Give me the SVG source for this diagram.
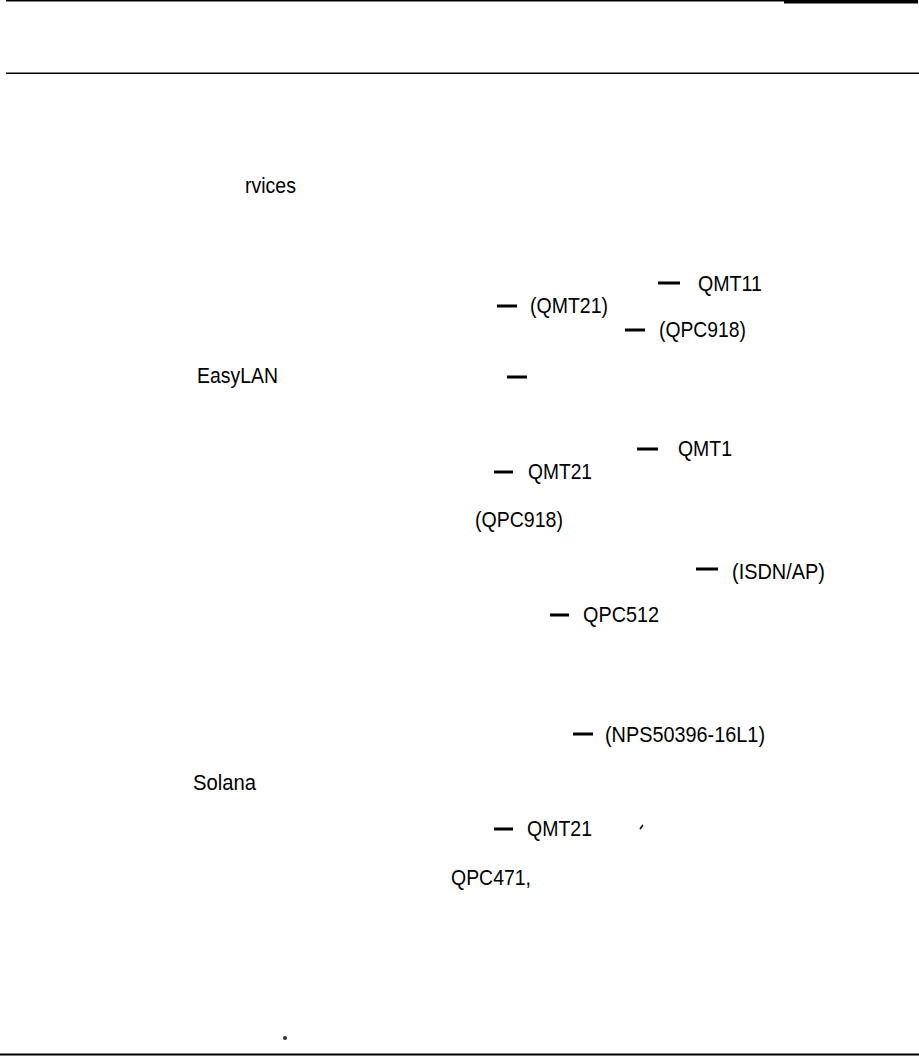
<svg xmlns="http://www.w3.org/2000/svg" width="919" height="1056" viewBox="0 0 919 1056">
<style>
.t{font-family:"Liberation Sans",Arial,Helvetica,sans-serif;font-size:22px;fill:#000}
.d{fill:#000}
</style>
<rect width="919" height="1056" fill="#fff"/>
<g id="rules">
<rect x="6" y="0" width="778" height="1.5" fill="#000"/>
<rect x="784" y="0" width="134" height="3.5" fill="#000"/>
<rect x="6" y="72.5" width="913" height="1.5" fill="#000"/>
<rect x="0" y="1053.5" width="919" height="2" fill="#000"/>
</g>
<g id="labels">
<text class="t" x="245" y="193" textLength="51" lengthAdjust="spacingAndGlyphs">rvices</text>
<text class="t" x="197" y="383" textLength="81" lengthAdjust="spacingAndGlyphs">EasyLAN</text>
<text class="t" x="698" y="291" textLength="64" lengthAdjust="spacingAndGlyphs">QMT11</text>
<text class="t" x="530" y="313" textLength="78" lengthAdjust="spacingAndGlyphs">(QMT21)</text>
<text class="t" x="659" y="337" textLength="87" lengthAdjust="spacingAndGlyphs">(QPC918)</text>
<text class="t" x="678" y="456" textLength="54" lengthAdjust="spacingAndGlyphs">QMT1</text>
<text class="t" x="528" y="479" textLength="64" lengthAdjust="spacingAndGlyphs">QMT21</text>
<text class="t" x="475" y="527" textLength="88" lengthAdjust="spacingAndGlyphs">(QPC918)</text>
<text class="t" x="732" y="579" textLength="93" lengthAdjust="spacingAndGlyphs">(ISDN/AP)</text>
<text class="t" x="583" y="622" textLength="76" lengthAdjust="spacingAndGlyphs">QPC512</text>
<text class="t" x="605" y="742" textLength="160" lengthAdjust="spacingAndGlyphs">(NPS50396-16L1)</text>
<text class="t" x="193" y="790" textLength="63" lengthAdjust="spacingAndGlyphs">Solana</text>
<text class="t" x="527" y="836" textLength="65" lengthAdjust="spacingAndGlyphs">QMT21</text>
<text class="t" x="451" y="885" textLength="80" lengthAdjust="spacingAndGlyphs">QPC471,</text>
</g>
<g id="connectors">
<rect class="d" x="658" y="281.5" width="22" height="3"/>
<rect class="d" x="497" y="304.5" width="20" height="3"/>
<rect class="d" x="625" y="328.5" width="20" height="3"/>
<rect class="d" x="507" y="375.5" width="20" height="3"/>
<rect class="d" x="637" y="447.5" width="21" height="3"/>
<rect class="d" x="494" y="470.5" width="19" height="3"/>
<rect class="d" x="696" y="567.5" width="22" height="3"/>
<rect class="d" x="550" y="613.5" width="19" height="3"/>
<rect class="d" x="573" y="732.5" width="20" height="3"/>
<rect class="d" x="494" y="827.5" width="19" height="3"/>
</g>
<g id="marks">
<path d="M640 829 L643 825" stroke="#000" stroke-width="1.5" fill="none"/>
<circle cx="285" cy="1038" r="2" fill="#333"/>
</g>
</svg>
